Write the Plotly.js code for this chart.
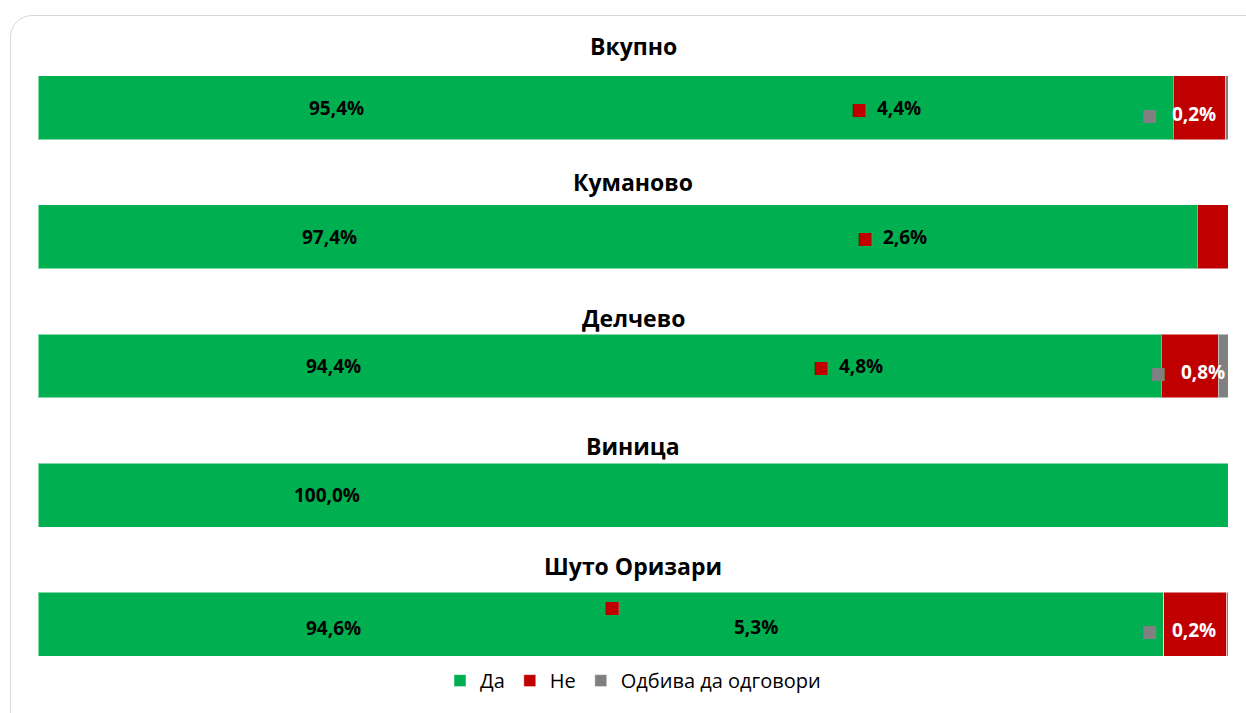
<!DOCTYPE html>
<html><head><meta charset="utf-8">
<script src="https://cdn.plot.ly/plotly-3.0.1.min.js"></script>
<style>
html,body{margin:0;padding:0;background:#fff;width:1246px;height:713px;overflow:hidden;}
#frame{position:absolute;left:10px;top:15px;width:1260px;height:730px;border:1.5px solid #d9d9d9;border-radius:22px;box-sizing:border-box;}
#chart{position:absolute;left:0;top:0;width:1246px;height:713px;}
</style></head>
<body><div id="frame"></div><div id="chart"></div>
<script>
const categories = ['Вкупно','Куманово','Делчево','Виница','Шуто Оризари'];
const seriesNames = ['Да','Не','Одбива да одговори'];
const da = [95.4, 97.4, 94.4, 100.0, 94.6];
const ne = [4.4, 2.6, 4.8, 0, 5.3];
const odbiva = [0.2, 0, 0.8, 0, 0.2];

// label placement (x in % of axis), separate from data
const daLabelX = [25.1, 24.5, 24.8, 24.3, 24.8];
const neLabelX = [71.3, 71.8, 68.1, null, 60.3];
const odLabelX = [95.8, null, 96.6, null, 95.8];
const titleShift = [62, 55, 48, 49, 58];

const colors = ['#00B050', '#C00000', '#808080'];
const FONT = 'Open Sans, Noto Sans, sans-serif';

function fmt(v){ return v.toFixed(1).replace('.', ',') + '%'; }

const traces = [da, ne, odbiva].map((vals, k) => ({
  type: 'bar', orientation: 'h', name: seriesNames[k],
  y: categories, x: vals, width: 0.495,
  marker: {color: colors[k], line: {color: 'rgba(255,255,255,0.5)', width: 1}},
  hoverinfo: 'skip'
}));

const ann = [];
categories.forEach((c, i) => {
  ann.push({x: 50, y: c, xref: 'x', yref: 'y', yshift: titleShift[i],
    text: '<b>' + c + '</b>', showarrow: false,
    font: {family: FONT, size: 23, color: '#000'}});
  ann.push({x: daLabelX[i], y: c, xref: 'x', yref: 'y', yshift: (i === 4 ? -4 : 0),
    text: '<b>' + fmt(da[i]) + '</b>', showarrow: false,
    font: {family: FONT, size: 19, color: '#000'}});
  if (ne[i] > 0) {
    if (i === 4) {
      ann.push({x: 48.2, y: c, xref: 'x', yref: 'y', yshift: 17,
        text: '■', showarrow: false,
        font: {family: 'DejaVu Sans', size: 17, color: '#C00000'}});
      ann.push({x: 60.3, y: c, xref: 'x', yref: 'y', yshift: -3,
        text: '<b>' + fmt(ne[i]) + '</b>', showarrow: false,
        font: {family: FONT, size: 19, color: '#000'}});
    } else {
      ann.push({x: neLabelX[i], y: c, xref: 'x', yref: 'y',
        text: '<span style="color:#C00000;font-family:DejaVu Sans;font-size:17px">■</span>  <b>' + fmt(ne[i]) + '</b>',
        showarrow: false, font: {family: FONT, size: 19, color: '#000'}});
    }
  }
  if (odbiva[i] > 0) {
    ann.push({x: odLabelX[i], y: c, xref: 'x', yref: 'y', yshift: -6,
      text: '<span style="color:#808080;font-family:DejaVu Sans;font-size:17px">■</span>   <b>' + fmt(odbiva[i]) + '</b>',
      showarrow: false, font: {family: FONT, size: 19, color: '#fff'}});
  }
});

const layout = {
  width: 1246, height: 713,
  margin: {l: 38, r: 18, t: 43, b: 24},
  paper_bgcolor: 'rgba(0,0,0,0)', plot_bgcolor: 'rgba(0,0,0,0)',
  barmode: 'stack', bargap: 0.5,
  xaxis: {range: [0, 100], visible: false, fixedrange: true},
  yaxis: {type: 'category', range: [4.5, -0.5], autorange: false, visible: false, fixedrange: true},
  showlegend: true,
  legend: {orientation: 'h', x: 0.5, xanchor: 'center', y: 0.013, yanchor: 'middle',
    font: {family: FONT, size: 20, color: '#000'}, traceorder: 'normal',
    itemwidth: 30, bgcolor: 'rgba(0,0,0,0)'},
  annotations: ann
};

Plotly.newPlot('chart', traces, layout, {displayModeBar: false, staticPlot: true});
</script></body></html>
